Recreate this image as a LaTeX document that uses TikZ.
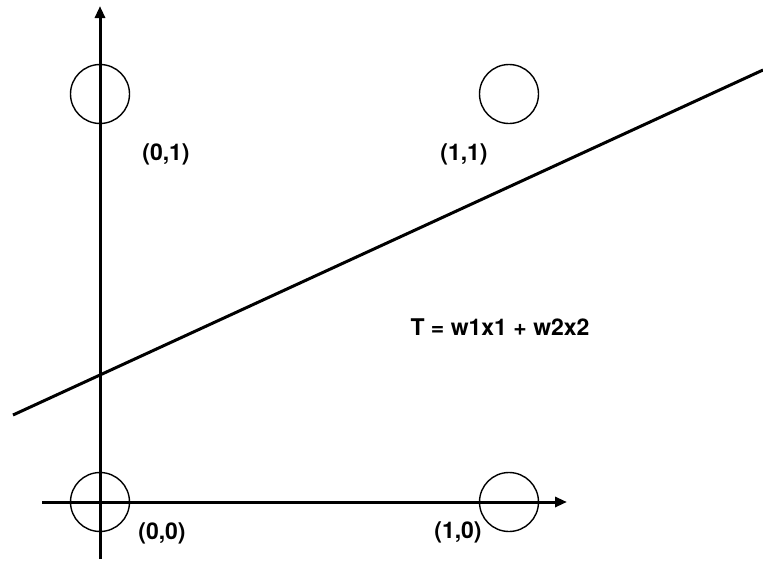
\documentclass[tikz,border=0pt]{standalone}
\usepackage{fontspec}
\setmainfont{TeX Gyre Heros}
\usetikzlibrary{arrows.meta}

\begin{document}
\begin{tikzpicture}[x=1pt, y=-1pt,
	lbl/.style={font=\bfseries\fontsize{23}{28}\selectfont, inner sep=0pt},
	pt/.style={draw, circle, minimum size=59pt, inner sep=0pt, line width=1.4pt},
	axis/.style={line width=3pt, -{Triangle[length=12pt, width=10pt]}}]
	\useasboundingbox (0,0) rectangle (763,560);
	% axes
	\coordinate (xs) at (42,502);
	\coordinate (xe) at (567,502);
	\coordinate (ys) at (100,559);
	\coordinate (ye) at (100,6);
	\draw[axis] (xs) -- (xe);
	\draw[axis] (ys) -- (ye);
	% input points
	\node[pt] (p00) at (100,502) {};
	\node[pt] (p10) at (509,502) {};
	\node[pt] (p01) at (100,94) {};
	\node[pt] (p11) at (509,94) {};
	\node[lbl] (l00) at (162,533) {(0,0)};
	\node[lbl] (l10) at (458,532) {(1,0)};
	\node[lbl] (l01) at (166,154) {(0,1)};
	\node[lbl] (l11) at (464,154) {(1,1)};
	% separating line
	\coordinate (ls) at (13,415);
	\coordinate (le) at (763,70);
	\draw[line width=3pt] (ls) -- (le);
	\node[lbl] (eq) at (500,327) {T = w1x1 + w2x2};
\end{tikzpicture}
\end{document}
